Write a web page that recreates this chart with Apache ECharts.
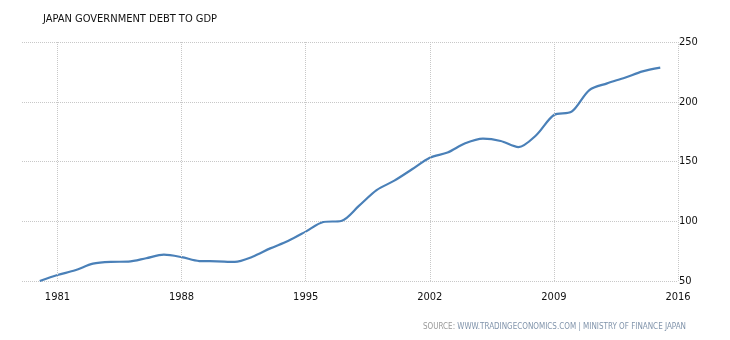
<!DOCTYPE html>
<html>
<head>
<meta charset="utf-8">
<script src="https://cdn.jsdelivr.net/npm/echarts@6/dist/echarts.min.js"></script>
<style>html,body{margin:0;padding:0;background:#fff}#c{width:730px;height:340px}</style>
</head>
<body>
<div id="c"></div>
<script>
const titleText = 'JAPAN GOVERNMENT DEBT TO GDP';
const sourceLabel = 'SOURCE:';
const sourceText = 'WWW.TRADINGECONOMICS.COM | MINISTRY OF FINANCE JAPAN';
const years = [1980,1981,1982,1983,1984,1985,1986,1987,1988,1989,1990,1991,1992,1993,1994,1995,1996,1997,1998,1999,2000,2001,2002,2003,2004,2005,2006,2007,2008,2009,2010,2011,2012,2013,2014,2015];
const debtToGdp = [50,55,59,64.5,66,66.2,69,72,70,66.7,66.5,66,70.3,77.3,83.5,91.3,99.4,100.2,112.8,126,134,143.5,153.2,157.5,165.2,169.1,167.2,162.1,172,188.9,191.7,209.8,215.4,220.1,225.4,228.5];
const xTicks = [1981,1988,1995,2002,2009,2016];
const yTicks = [50,100,150,200,250];

const FONT = '"DejaVu Sans Condensed","DejaVu Sans",sans-serif';
const GRID_LINE = {type: 'dotted', color: '#c8c8c8', width: 1};
const chart = echarts.init(document.getElementById('c'));
chart.setOption({
  animation: false,
  title: [
    {text: titleText, left: 38, top: 9, textStyle: {fontFamily: FONT, fontSize: 11, fontWeight: 'normal', color: '#111'}},
    {text: '{a|' + sourceLabel + '} {b|' + sourceText + '}', right: 39, top: 318,
     textStyle: {fontFamily: FONT, fontSize: 8, fontWeight: 'normal',
       rich: {a: {fontFamily: FONT, fontSize: 8, color: '#999'}, b: {fontFamily: FONT, fontSize: 8, color: '#8194ab'}}}}
  ],
  grid: {left: 22, right: 52, top: 42, bottom: 59, containLabel: false},
  xAxis: {
    type: 'value', min: 1979, max: 2016,
    axisLine: {show: false},
    axisTick: {show: false, customValues: xTicks},
    axisLabel: {show: true, customValues: xTicks, margin: 11, color: '#111', fontFamily: FONT, fontSize: 11, formatter: v => String(v)},
    splitLine: {show: false}
  },
  yAxis: {
    type: 'value', position: 'right', min: yTicks[0], max: yTicks[yTicks.length-1], interval: 50,
    axisLine: {show: false}, axisTick: {show: false},
    axisLabel: {margin: 1, color: '#111', fontFamily: FONT, fontSize: 11},
    splitLine: {show: true, lineStyle: GRID_LINE}
  },
  series: [{
    type: 'line', data: years.map((y, i) => [y, debtToGdp[i]]),
    smooth: 0.3, showSymbol: false, symbol: 'none',
    lineStyle: {color: '#4a80b8', width: 2.2},
    markLine: {
      silent: true, symbol: ['none', 'none'], label: {show: false},
      lineStyle: GRID_LINE, emphasis: {disabled: true},
      data: xTicks.map(t => ({xAxis: t}))
    },
    z: 3
  }]
});
</script>
</body>
</html>
